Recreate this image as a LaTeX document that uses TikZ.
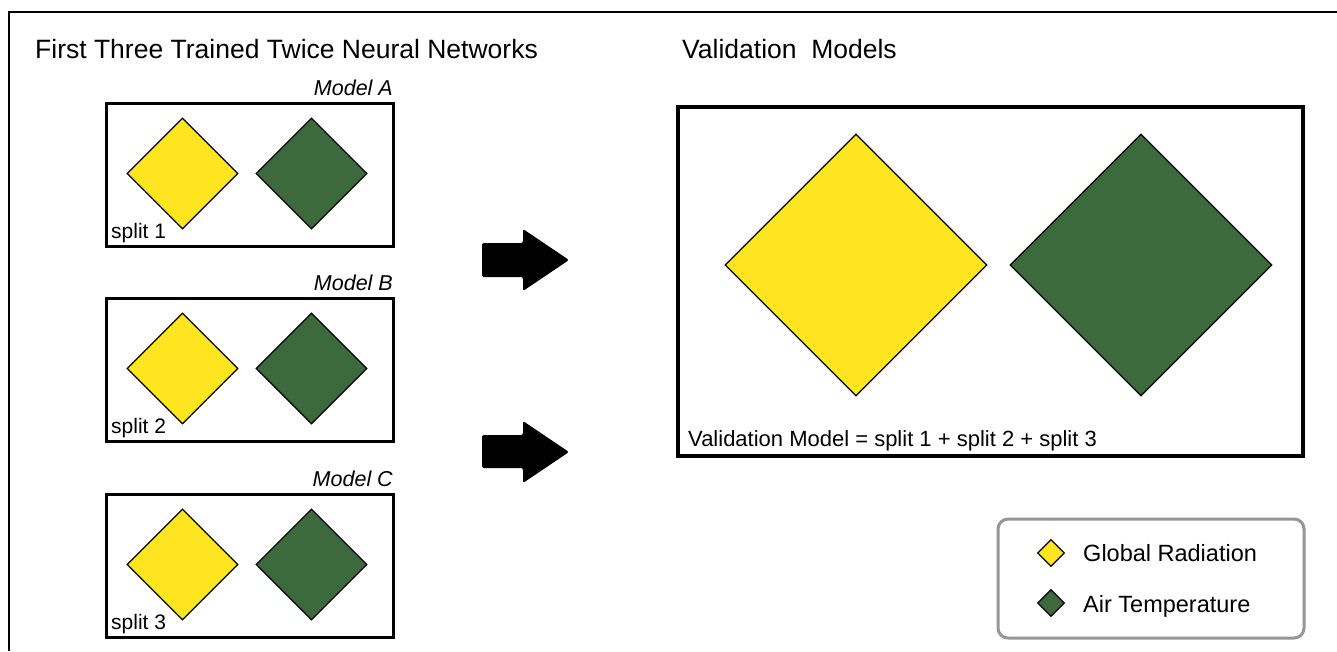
\documentclass[tikz,border=0pt]{standalone}
\usepackage{fontspec}
\setmainfont{Liberation Sans}
\usetikzlibrary{shapes.geometric}
\definecolor{gyellow}{RGB}{254,229,32}
\definecolor{agreen}{RGB}{60,106,60}
\definecolor{legendgray}{RGB}{150,150,150}
\begin{document}
\begin{tikzpicture}[x=1pt,y=-1pt,
  modelbox/.style={draw, line width=3.5pt, minimum width=287pt, minimum height=143pt, inner sep=0pt},
  smalldia/.style={diamond, draw, line width=1.3pt, aspect=1, minimum width=111pt, minimum height=111pt, inner sep=0pt},
  bigdia/.style={diamond, draw, line width=1.3pt, aspect=1, minimum width=262pt, minimum height=262pt, inner sep=0pt},
  legdia/.style={diamond, draw, line width=1.2pt, aspect=1, minimum width=27pt, minimum height=27pt, inner sep=0pt},
  titletext/.style={font=\fontsize{26.5}{30}\selectfont, anchor=base west, inner sep=0pt},
  labeltext/.style={font=\fontsize{22}{26}\selectfont, inner sep=0pt},
  splittext/.style={font=\fontsize{21}{25}\selectfont, anchor=base west, inner sep=0pt},
  modeltext/.style={font=\fontsize{21.5}{25}\selectfont\itshape, anchor=base east, inner sep=0pt},
  legtext/.style={font=\fontsize{23.5}{27}\selectfont, anchor=base west, inner sep=0pt},
  bigarrow/.style={fill=black, rounded corners=2pt}
]
\useasboundingbox (0,0) rectangle (1337,651);
\fill[white] (0,0) rectangle (1337,651);
\draw[line width=1.5pt] (9,651) -- (9,12) -- (1337,12);

% titles
\node[titletext] (title1) at (35,58) {First Three Trained Twice Neural Networks};
\node[titletext] (title2) at (682,58) {Validation~~Models};

% model boxes
\foreach \n/\yc/\lab/\sp in {A/175/Model A/split 1, B/370/Model B/split 2, C/566/Model C/split 3}{
  \node[modelbox] (box\n) at (250,\yc) {};
  \node[smalldia, fill=gyellow] (gr\n) at (182.5,\yc-1.5) {};
  \node[smalldia, fill=agreen] (at\n) at (311.5,\yc-1.5) {};
  \node[modeltext] (ml\n) at (393,\yc-80) {\lab};
  \node[splittext] (sp\n) at (111,\yc+63) {\sp};
}

% arrows
\fill[bigarrow] (482,243) -- (523,243) -- (523,229) -- (569,260) -- (523,291) -- (523,277) -- (482,277) -- cycle;
\fill[bigarrow] (482,435) -- (523,435) -- (523,421) -- (569,452) -- (523,483) -- (523,468) -- (482,468) -- cycle;

% validation box
\node[draw, line width=3.5pt, minimum width=625pt, minimum height=349pt, inner sep=0pt] (valbox) at (990.5,281.5) {};
\node[bigdia, fill=gyellow] (biggr) at (856,265) {};
\node[bigdia, fill=agreen] (bigat) at (1141,265) {};
\node[labeltext, anchor=base west] (valtext) at (688,446) {Validation Model = split 1 + split 2 + split 3};

% legend
\node[draw=legendgray, line width=3pt, rounded corners=10pt, minimum width=306pt, minimum height=119pt, inner sep=0pt] (legend) at (1151,578.5) {};
\node[legdia, fill=gyellow] (lgr) at (1051,553) {};
\node[legdia, fill=agreen] (lat) at (1051,603) {};
\node[legtext] (lgrt) at (1083,561) {Global Radiation};
\node[legtext] (latt) at (1083,612) {Air Temperature};
\end{tikzpicture}
\end{document}
